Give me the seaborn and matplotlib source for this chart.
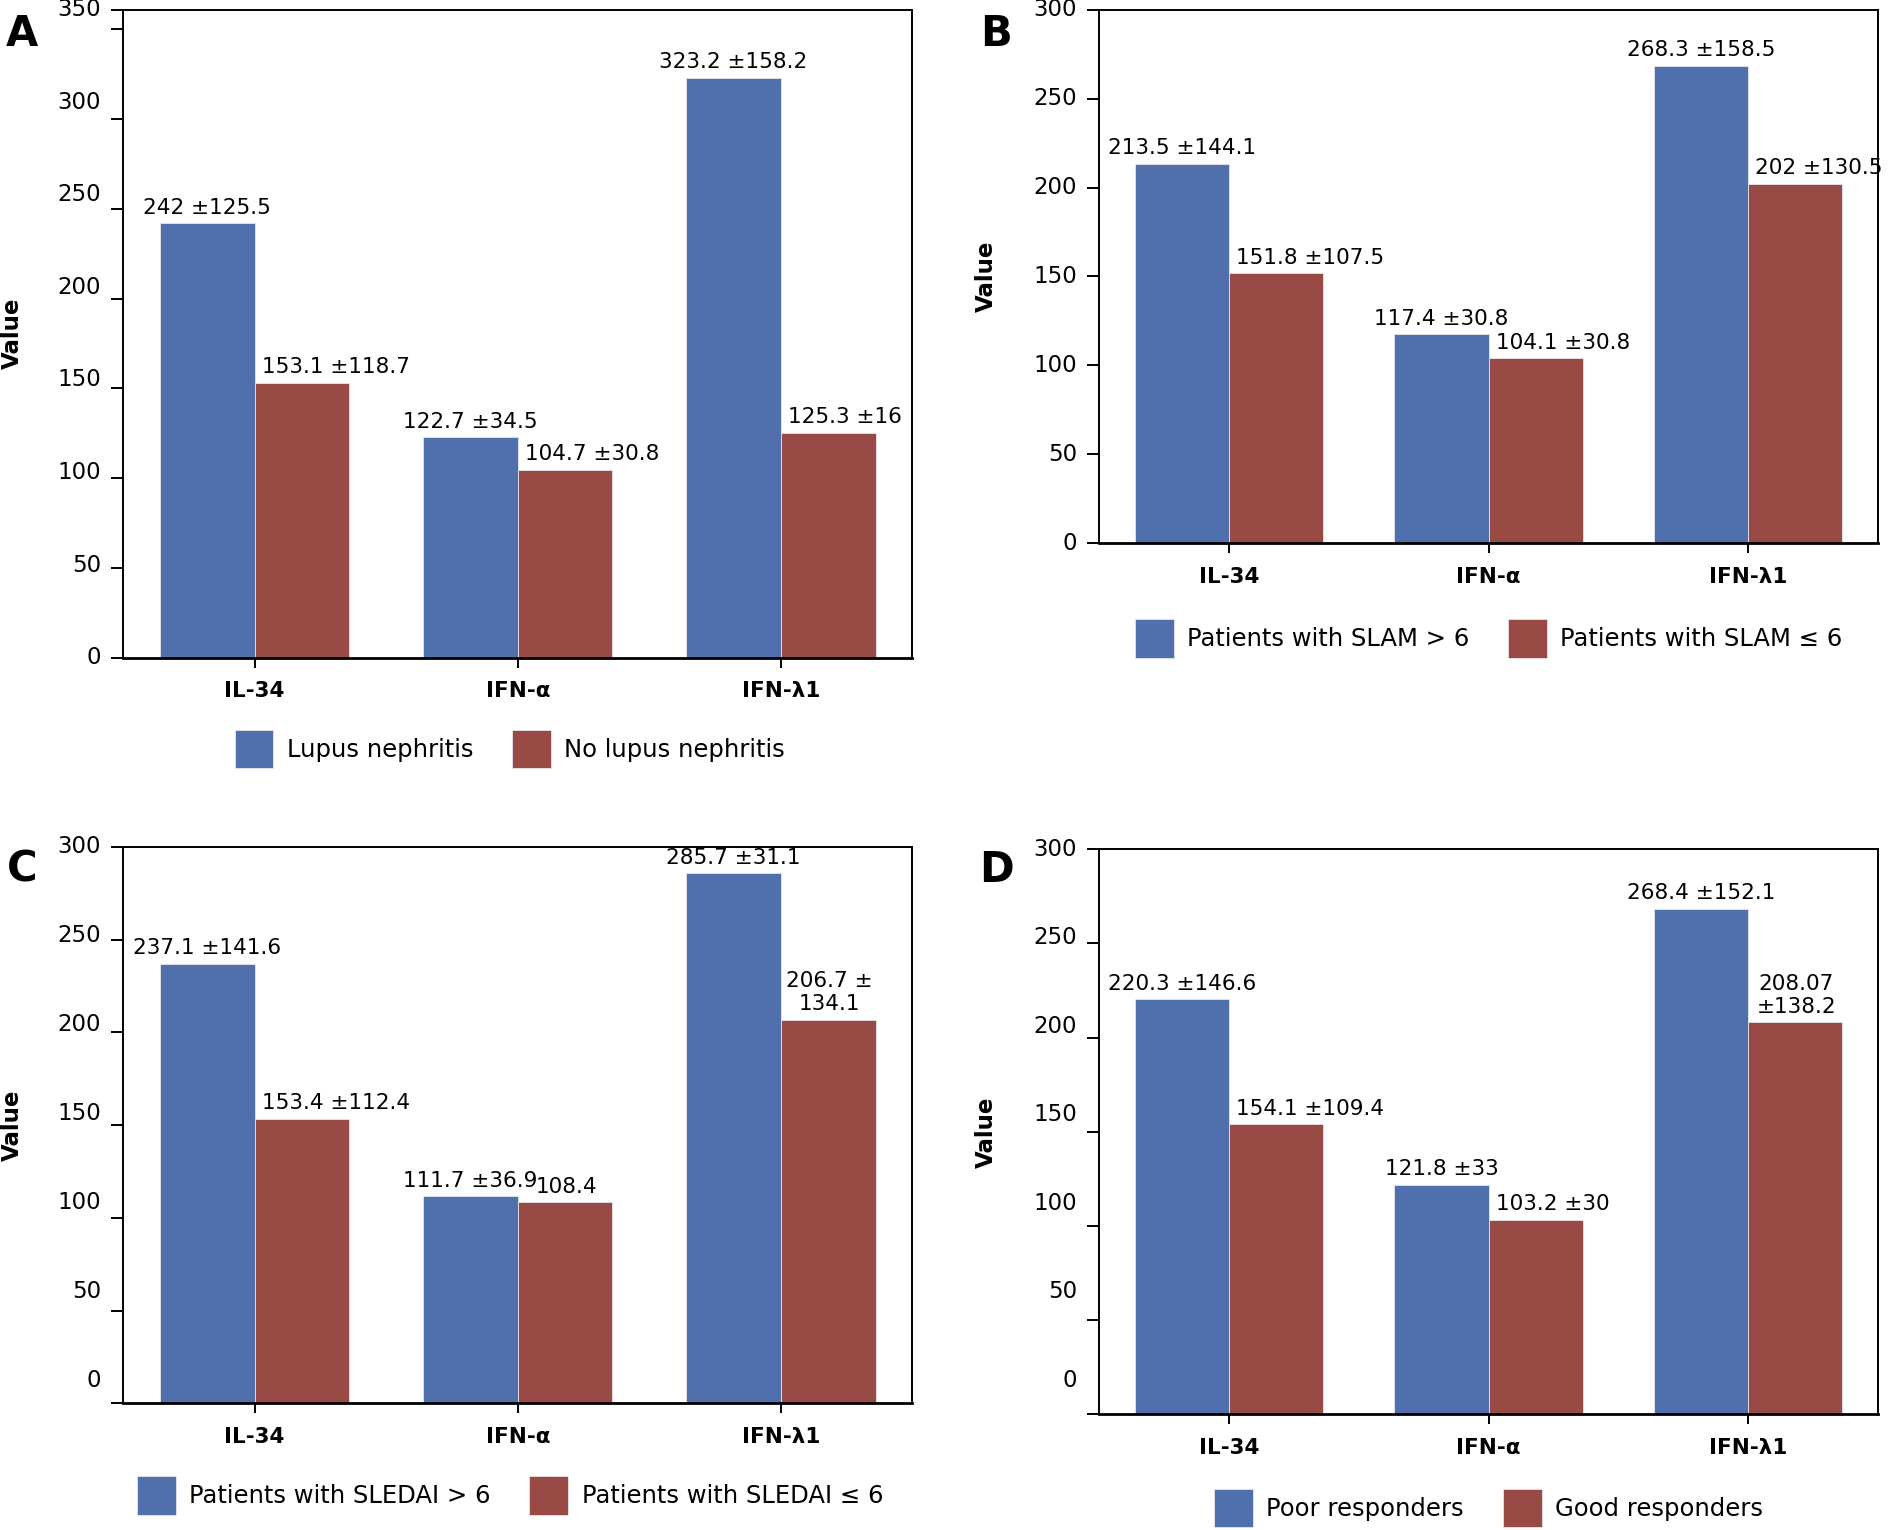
import pandas as pd
import seaborn as sns
import matplotlib.pyplot as plt

sns.set_theme(style='white')
plt.rcParams['font.family'] = ['DejaVu Sans']
plt.rcParams['text.color'] = 'black'
plt.rcParams['axes.labelcolor'] = 'black'
plt.rcParams['xtick.color'] = 'black'
plt.rcParams['ytick.color'] = 'black'

BLUE = '#5070AD'
RED = '#9A4A44'
FS = 15.5      # bar value labels, x ticks
FS_Y = 16.5    # y tick labels
FS_LEG = 17.5  # legend

cytokines = ['IL-34', 'IFN-\u03b1', 'IFN-\u03bb1']

# panel A
a_groups = ['Lupus nephritis', 'No lupus nephritis']
a_first = [242, 122.7, 323.2]
a_second = [153.1, 104.7, 125.3]
a_first_lbl = ['242 \u00b1125.5', '122.7 \u00b134.5', '323.2 \u00b1158.2']
a_second_lbl = ['153.1 \u00b1118.7', '104.7 \u00b130.8', '125.3 \u00b116']

# panel B
b_groups = ['Patients with SLAM > 6', 'Patients with SLAM \u2264 6']
b_first = [213.5, 117.4, 268.3]
b_second = [151.8, 104.1, 202]
b_first_lbl = ['213.5 \u00b1144.1', '117.4 \u00b130.8', '268.3 \u00b1158.5']
b_second_lbl = ['151.8 \u00b1107.5', '104.1 \u00b130.8', '202 \u00b1130.5']

# panel C
c_groups = ['Patients with SLEDAI > 6', 'Patients with SLEDAI \u2264 6']
c_first = [237.1, 111.7, 285.7]
c_second = [153.4, 108.4, 206.7]
c_first_lbl = ['237.1 \u00b1141.6', '111.7 \u00b136.9', '285.7 \u00b131.1']
c_second_lbl = ['153.4 \u00b1112.4', '108.4', '206.7 \u00b1\n134.1']

# panel D
d_groups = ['Poor responders', 'Good responders']
d_first = [220.3, 121.8, 268.4]
d_second = [154.1, 103.2, 208.07]
d_first_lbl = ['220.3 \u00b1146.6', '121.8 \u00b133', '268.4 \u00b1152.1']
d_second_lbl = ['154.1 \u00b1109.4', '103.2 \u00b130', '208.07\n\u00b1138.2']

a_ticks = ['0', '50', '100', '150', '200', '250', '300', '350']
bcd_ticks = ['0', '50', '100', '150', '200', '250', '300']

panels = [
    ('A', [0.0651, 0.5701, 0.4177, 0.4236], 361, a_ticks, 0.0, (0.49, -0.141),
     a_groups, a_first, a_second, a_first_lbl, a_second_lbl, 0.72, -0.140),
    ('B', [0.5816, 0.6449, 0.4120, 0.3488], 300, bcd_ticks, 0.0, (0.5, -0.178),
     b_groups, b_first, b_second, b_first_lbl, b_second_lbl, 0.725, -0.1455),
    ('C', [0.0651, 0.0827, 0.4177, 0.3638], 300, bcd_ticks, 0.041, (0.49, -0.165),
     c_groups, c_first, c_second, c_first_lbl, c_second_lbl, 0.72, -0.140),
    ('D', [0.5816, 0.0756, 0.4120, 0.3693], 300, bcd_ticks, 0.06, (0.5, -0.166),
     d_groups, d_first, d_second, d_first_lbl, d_second_lbl, 0.725, -0.1455),
]

letter_pos = {'A': (0.0115, 0.978), 'B': (0.527, 0.978),
              'C': (0.0115, 0.4315), 'D': (0.527, 0.4315)}

fig = plt.figure(figsize=(18.9, 15.3), dpi=100)

for (name, rect, ymax, tick_lbls, lo, leg_anchor, groups, first, second,
     first_lbl, second_lbl, width, ylab_x) in panels:
    ax = fig.add_axes(rect)
    df = pd.DataFrame({
        'cytokine': cytokines * 2,
        'group': [groups[0]] * 3 + [groups[1]] * 3,
        'value': first + second,
    })
    sns.barplot(data=df, x='cytokine', y='value', hue='group',
                palette=[BLUE, RED], width=width, gap=0, errorbar=None,
                saturation=1, edgecolor='#E6E6EE', linewidth=0.6, ax=ax)

    # blue labels centred, long red labels start near the bar's left edge
    ax.bar_label(ax.containers[0], labels=first_lbl, padding=4, fontsize=FS)
    for bar, lbl in zip(ax.containers[1], second_lbl):
        if '\u00b1' in lbl and '\n' not in lbl:
            ax.annotate(lbl, xy=(bar.get_x(), bar.get_height()),
                        xytext=(5, 4), textcoords='offset points',
                        ha='left', va='bottom', fontsize=FS)
        else:
            ax.annotate(lbl, xy=(bar.get_x() + bar.get_width() / 2,
                                 bar.get_height()),
                        xytext=(1, 4), textcoords='offset points',
                        ha='center', va='bottom', fontsize=FS)

    ax.set_xlim(-0.5, 2.5)
    ax.set_ylim(0, ymax)
    # tick marks at data values, the top one sits on the frame
    vals = [float(t) for t in tick_lbls]
    tick_pos = [v for v in vals if v < ymax - 5] + [ymax]
    ax.set_yticks(tick_pos)
    ax.tick_params(axis='y', direction='out', length=8.5, width=1.4,
                   labelleft=False, left=True)
    ax.tick_params(axis='x', direction='out', length=7, width=1.4,
                   pad=10, bottom=True, labelsize=FS)
    for lab in ax.get_xticklabels():
        lab.set_fontweight('bold')
    # value labels are spread evenly along the axis
    n = len(tick_lbls)
    for i, t in enumerate(tick_lbls):
        frac = lo + (1 - lo) * i / (n - 1)
        ax.annotate(t, xy=(0, frac), xycoords='axes fraction',
                    xytext=(-16, 0), textcoords='offset points',
                    ha='right', va='center', fontsize=FS_Y)

    for side in ['left', 'right', 'top']:
        ax.spines[side].set_linewidth(1.4)
        ax.spines[side].set_color('black')
    ax.spines['bottom'].set_linewidth(2.0)
    ax.spines['bottom'].set_color('black')

    ax.set_xlabel('')
    ax.set_ylabel('Value', fontsize=16.5, fontweight='bold')
    ax.yaxis.set_label_coords(ylab_x, 0.5)
    ax.yaxis.label.set_verticalalignment('center')

    handles, labels = ax.get_legend_handles_labels()
    ax.legend(handles, labels, loc='center', bbox_to_anchor=leg_anchor,
              ncol=2, frameon=False, fontsize=FS_LEG, handlelength=1.6,
              handleheight=2.07, handletextpad=0.55, columnspacing=1.6)

    lx, ly = letter_pos[name]
    fig.text(lx, ly, name, fontsize=30, fontweight='bold',
             ha='center', va='center')

plt.savefig('out.png', dpi=100)
